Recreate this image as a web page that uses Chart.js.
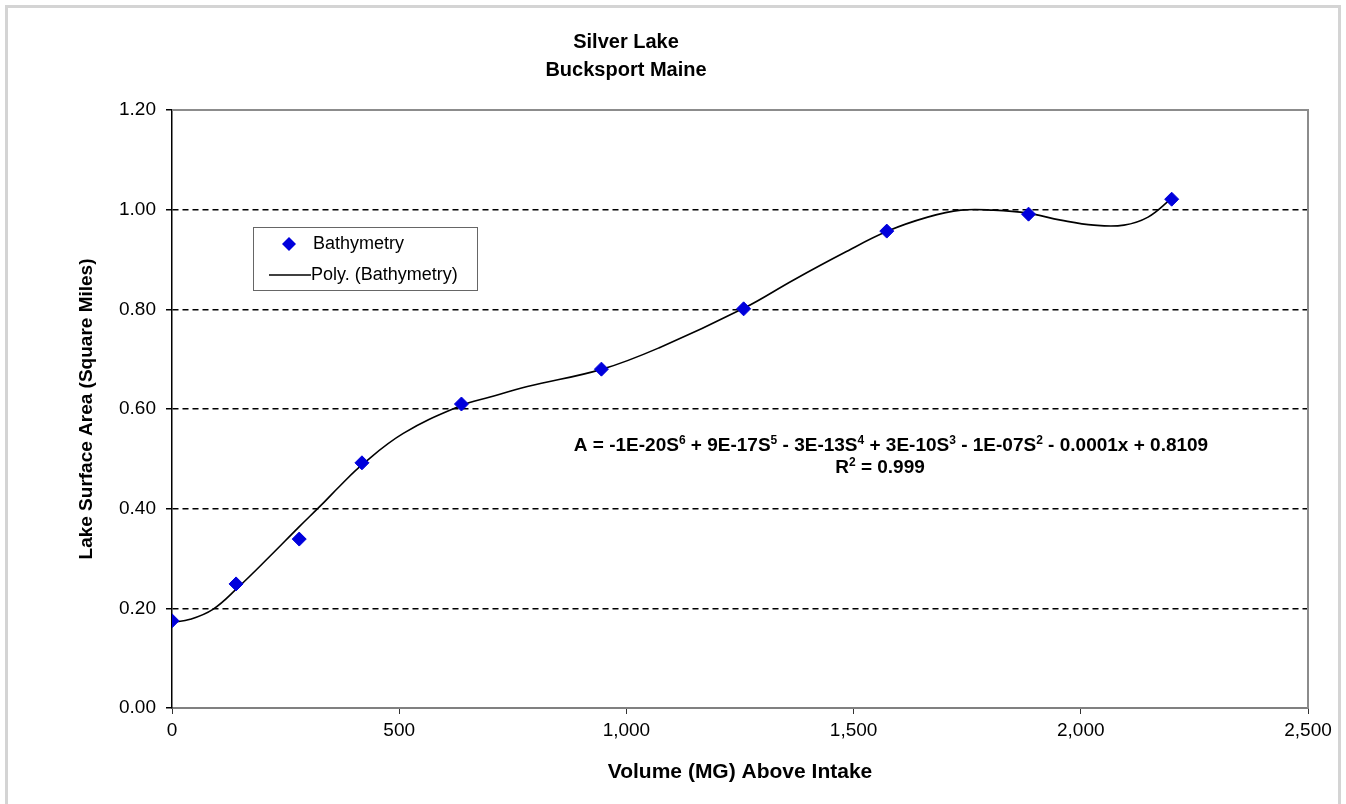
<!DOCTYPE html>
<html>
<head>
<meta charset="utf-8">
<script src="https://cdn.jsdelivr.net/npm/chart.js@4"></script>
<style>
  html, body { margin: 0; padding: 0; background: #fff; }
  #wrap { width: 1346px; height: 804px; }
</style>
</head>
<body>
<div id="wrap"><canvas id="lake-chart" width="1346" height="804"></canvas></div>
<script>
// measured points
var volume = [0, 141, 280, 418, 637, 945, 1258, 1573, 1885, 2200];
var area = [0.175, 0.249, 0.339, 0.492, 0.610, 0.680, 0.801, 0.957, 0.991, 1.021];

// 6th order trendline
var trendX = [0, 40, 90, 143, 216, 278, 326, 370, 418, 509, 634, 700, 782, 947, 1075, 1258, 1368, 1478, 1575, 1663, 1736, 1808, 1883, 1956, 2029, 2095, 2148, 2198];
var trendY = [0.172, 0.178, 0.198, 0.240, 0.305, 0.362, 0.405, 0.446, 0.488, 0.551, 0.606, 0.624, 0.645, 0.680, 0.724, 0.802, 0.859, 0.913, 0.957, 0.985, 0.999, 0.999, 0.993, 0.979, 0.969, 0.969, 0.985, 1.021];

var titleLines = ['Silver Lake', 'Bucksport Maine'];
// ^n marks a superscript
var equation = 'A = -1E-20S^6 + 9E-17S^5 - 3E-13S^4 + 3E-10S^3 - 1E-07S^2 - 0.0001x + 0.8109';
var rSquared = 'R^2 = 0.999';
var legendLabels = ['Bathymetry', 'Poly. (Bathymetry)'];

var FONT = "'Liberation Sans', Arial, sans-serif";
var BLUE = 'rgb(0, 0, 220)';

function drawSup(c, text, cx, cy, size) {
  var parts = text.split(/\^(\d)/);
  var big = 'bold ' + size + 'px ' + FONT;
  var small = 'bold ' + Math.round(size * 0.62) + 'px ' + FONT;
  var w = 0;
  parts.forEach(function (p, i) {
    c.font = i % 2 ? small : big;
    w += c.measureText(p).width;
  });
  var x = cx - w / 2;
  c.textAlign = 'left';
  parts.forEach(function (p, i) {
    c.font = i % 2 ? small : big;
    c.fillText(p, x, i % 2 ? cy - size * 0.3 : cy);
    x += c.measureText(p).width;
  });
}

var extras = {
  id: 'extras',
  beforeDraw: function (chart) {
    var c = chart.ctx;
    c.save();
    c.fillStyle = '#fff';
    c.fillRect(0, 0, chart.width, chart.height);
    c.strokeStyle = '#d4d4d4';
    c.lineWidth = 3;
    c.strokeRect(6.5, 6.5, 1333, 800);
    c.restore();
  },
  afterDatasetsDraw: function (chart) {
    var c = chart.ctx;
    var a = chart.chartArea;
    c.save();
    // plot border top / right
    c.strokeStyle = '#8c8c8c';
    c.lineWidth = 2;
    c.beginPath();
    c.moveTo(a.left, a.top);
    c.lineTo(a.right, a.top);
    c.lineTo(a.right, a.bottom);
    c.stroke();

    // title
    c.fillStyle = '#000';
    c.textAlign = 'center';
    c.textBaseline = 'middle';
    c.font = 'bold 20px ' + FONT;
    c.fillText(titleLines[0], 626, 42);
    c.fillText(titleLines[1], 626, 70);

    // equation
    drawSup(c, equation, 891, 446, 19);
    drawSup(c, rSquared, 880, 468, 19);

    // legend box
    c.fillStyle = '#fff';
    c.fillRect(253, 227, 225, 63);
    c.strokeStyle = '#666';
    c.lineWidth = 1;
    c.strokeRect(253.5, 227.5, 224, 63);
    c.fillStyle = BLUE;
    c.beginPath();
    c.moveTo(289, 237);
    c.lineTo(296, 244);
    c.lineTo(289, 251);
    c.lineTo(282, 244);
    c.closePath();
    c.fill();
    c.strokeStyle = '#000';
    c.lineWidth = 1.5;
    c.beginPath();
    c.moveTo(269, 275);
    c.lineTo(311, 275);
    c.stroke();
    c.fillStyle = '#000';
    c.textAlign = 'left';
    c.font = '18px ' + FONT;
    c.fillText(legendLabels[0], 313, 244);
    c.fillText(legendLabels[1], 311, 275);
    c.restore();
  }
};

var ctx = document.querySelector('#lake-chart').getContext('2d');
var chart = new Chart(ctx, {
  type: 'scatter',
  data: {
    datasets: [{
      label: legendLabels[0],
      data: volume.map(function (v, i) { return { x: v, y: area[i] }; }),
      backgroundColor: BLUE,
      borderColor: BLUE,
      pointStyle: 'rectRot',
      pointRadius: 7,
      order: 0
    }, {
      label: legendLabels[1],
      data: trendX.map(function (v, i) { return { x: v, y: trendY[i] }; }),
      showLine: true,
      borderColor: '#000',
      borderWidth: 1.6,
      pointRadius: 0,
      tension: 0.4,
      order: 1
    }]
  },
  options: {
    responsive: false,
    animation: false,
    layout: { padding: { left: 20, right: 38, top: 110, bottom: 0 } },
    plugins: { legend: { display: false }, title: { display: false }, tooltip: { enabled: false } },
    scales: {
      x: {
        type: 'linear',
        min: 0, max: 2500,
        afterFit: function (s) { s.height = 96; },
        ticks: {
          stepSize: 500,
          color: '#000',
          padding: 5,
          maxRotation: 0,
          font: { family: FONT, size: 19 },
          callback: function (v) { return v.toLocaleString('en-US'); }
        },
        grid: { drawOnChartArea: false, drawTicks: true, tickLength: 6, color: '#333' },
        border: { color: '#808080', width: 2 },
        title: {
          display: true,
          text: 'Volume (MG) Above Intake',
          color: '#000',
          font: { family: FONT, size: 21, weight: 'bold' },
          padding: { top: 0, bottom: 19 }
        }
      },
      y: {
        min: 0, max: 1.2,
        afterFit: function (s) { s.width = 152; },
        ticks: {
          stepSize: 0.2,
          color: '#000',
          padding: 10,
          font: { family: FONT, size: 19 },
          callback: function (v) { return v.toFixed(2); }
        },
        grid: {
          color: function (c) { return (c.tick && (c.tick.value === 0 || c.tick.value > 1.19)) ? 'rgba(0,0,0,0)' : '#000'; },
          lineWidth: 1.5,
          tickColor: '#000',
          tickLength: 6,
          drawTicks: true
        },
        border: { color: '#000', width: 1.5, dash: [6, 4] },
        title: {
          display: true,
          text: 'Lake Surface Area (Square Miles)',
          color: '#000',
          font: { family: FONT, size: 19, weight: 'bold' },
          padding: { top: 55, bottom: 0 }
        }
      }
    }
  },
  plugins: [extras]
});
</script>
</body>
</html>
